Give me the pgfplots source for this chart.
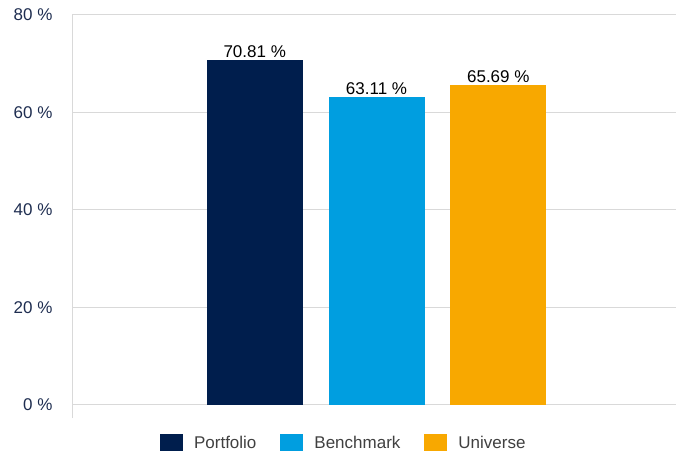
\documentclass[border=0pt]{standalone}
\usepackage{fontspec}
\setmainfont{Liberation Sans}
\usepackage{pgfplots}
\pgfplotsset{compat=1.18}
\definecolor{portfolio}{RGB}{0,30,77}
\definecolor{benchmark}{RGB}{0,158,224}
\definecolor{universe}{RGB}{248,168,0}
\definecolor{ticktext}{RGB}{30,45,80}
\definecolor{legtext}{RGB}{64,64,64}
\definecolor{gridc}{RGB}{217,217,217}
\begin{document}
\begin{tikzpicture}[font=\fontsize{17}{20}\selectfont]
\begin{axis}[
  at={(72pt,35pt)}, anchor=south west,
  scale only axis,
  width=604pt, height=403pt,
  xmin=-1.5, xmax=3.459,
  ymin=-2.7, ymax=80,
  ytick={0,20,40,60,80},
  xtick=\empty,
  ymajorgrids, grid style={gridc, line width=1pt},
  axis line style={draw=none},
  axis y line*=left,
  axis x line=none,
  major tick length=0pt,
  /pgf/number format/assume math mode=true,
  yticklabel={\pgfmathprintnumber{\tick}~\%},
  yticklabel style={text=ticktext, xshift=-16pt},
  ybar, bar width=96pt, bar shift=0pt,
  nodes near coords={\pgfmathprintnumber[fixed,precision=2,fixed zerofill]{\pgfplotspointmeta}~\%},
  nodes near coords style={text=black, inner sep=0pt, anchor=south, yshift=2pt},
  legend columns=3,
  legend style={draw=none, fill=none, at={(0.45,-0.062)}, anchor=center,
    text=legtext, font=\fontsize{17}{20}\selectfont,
    /tikz/every odd column/.append style={column sep=9pt},
    /tikz/every even column/.append style={column sep=22pt}},
  legend image code/.code={\fill[#1] (0pt,-8.5pt) rectangle (23pt,8.5pt);},
  clip=false,
]
\draw[gridc, line width=1pt] (axis cs:-1.5,-2.7) -- (axis cs:-1.5,80);
\addplot[fill=portfolio, draw=none] coordinates {(0,70.81)};
\addlegendentry{Portfolio}
\addplot[fill=benchmark, draw=none] coordinates {(1,63.11)};
\addlegendentry{Benchmark}
\addplot[fill=universe, draw=none] coordinates {(2,65.69)};
\addlegendentry{Universe}
\end{axis}
\pgfresetboundingbox
\path[use as bounding box] (0,0) rectangle (676pt,453pt);
\end{tikzpicture}
\end{document}
